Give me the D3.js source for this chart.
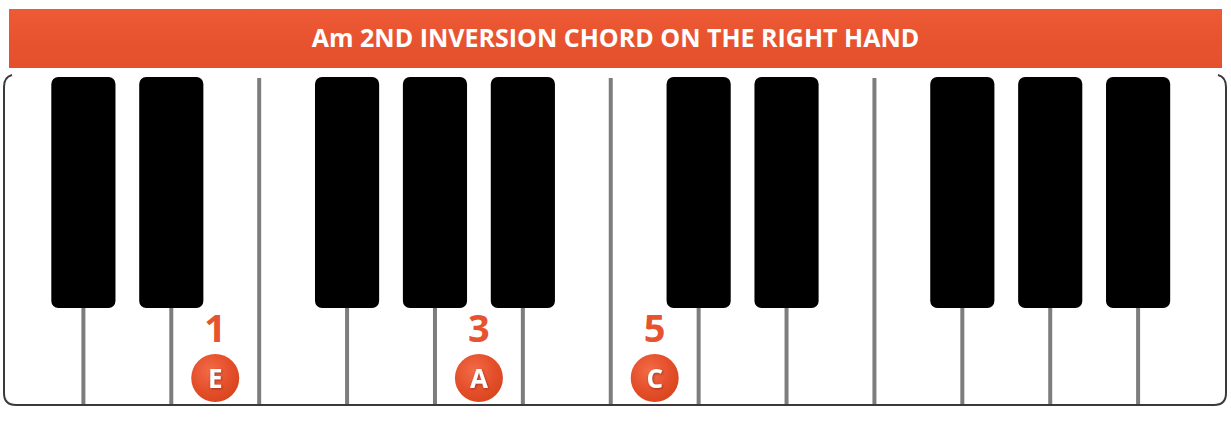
<!DOCTYPE html>
<html>
<head>
<meta charset="utf-8">
<script src="https://cdn.jsdelivr.net/npm/d3@7"></script>
<style>
  html, body { margin: 0; padding: 0; background: #fff; }
  svg { display: block; }
</style>
</head>
<body>
<div id="piano"></div>
<script>
// chord data
const title = "Am 2ND INVERSION CHORD ON THE RIGHT HAND"
const whiteKeys = ["C", "D", "E", "F", "G", "A", "B", "C", "D", "E", "F", "G", "A", "B"]
const sharpAfter = ["C", "D", "F", "G", "A"]   // white notes followed by a black key
const chordNotes = ["E", "A", "C"]
const chordKeys = [2, 5, 7]                     // index into whiteKeys
const fingers = [1, 3, 5]

const width = 1231
const height = 421
const frame = {left: 4, right: 1226, top: 75, bottom: 405}
const orange = "#e8532f"

const svg = d3.select("#piano").append("svg")
  .attr("width", width)
  .attr("height", height)

const defs = svg.append("defs")

const bannerGrad = defs.append("linearGradient")
  .attr("id", "bannerGrad").attr("x1", 0).attr("y1", 0).attr("x2", 0).attr("y2", 1)
bannerGrad.append("stop").attr("offset", "0%").attr("stop-color", "#ef5a36")
bannerGrad.append("stop").attr("offset", "55%").attr("stop-color", "#e8532f")
bannerGrad.append("stop").attr("offset", "100%").attr("stop-color", "#e4502d")

const ballGrad = defs.append("radialGradient")
  .attr("id", "ballGrad").attr("cx", "40%").attr("cy", "35%").attr("r", "65%")
ballGrad.append("stop").attr("offset", "0%").attr("stop-color", "#f26c47")
ballGrad.append("stop").attr("offset", "60%").attr("stop-color", "#e6512d")
ballGrad.append("stop").attr("offset", "100%").attr("stop-color", "#d9461f")

const shadow = defs.append("filter").attr("id", "txtShadow")
  .attr("x", "-30%").attr("y", "-30%").attr("width", "160%").attr("height", "160%")
shadow.append("feDropShadow")
  .attr("dx", 0.8).attr("dy", 1).attr("stdDeviation", 0.8)
  .attr("flood-color", "#7a2410").attr("flood-opacity", 0.7)

defs.append("clipPath").attr("id", "frameClip")
  .append("rect")
  .attr("x", frame.left).attr("y", frame.top - 5)
  .attr("width", frame.right - frame.left).attr("height", frame.bottom - frame.top + 5)

// x scale in white key units
const x = d3.scaleLinear().domain([0, whiteKeys.length]).range([-4.5, 1226])
const keyW = x(1) - x(0)

// banner
svg.append("rect")
  .attr("x", 9).attr("y", 9)
  .attr("width", 1213).attr("height", 59)
  .attr("fill", "url(#bannerGrad)")

svg.append("text")
  .attr("x", 615.5).attr("y", 47)
  .attr("text-anchor", "middle")
  .attr("font-family", "'Open Sans', sans-serif")
  .attr("font-weight", 700)
  .attr("font-size", 25)
  .attr("fill", "#fff")
  .text(title)

const keys = svg.append("g").attr("clip-path", "url(#frameClip)")

// white keys background
keys.selectAll(".white")
  .data(whiteKeys)
  .enter().append("rect")
  .attr("class", "white")
  .attr("x", (d, i) => x(i))
  .attr("y", frame.top)
  .attr("width", keyW)
  .attr("height", frame.bottom - frame.top)
  .attr("fill", "#fff")

// dividers between white keys
keys.selectAll(".divider")
  .data(d3.range(1, whiteKeys.length))
  .enter().append("line")
  .attr("class", "divider")
  .attr("x1", d => x(d)).attr("x2", d => x(d))
  .attr("y1", 78).attr("y2", frame.bottom)
  .attr("stroke", "#7d7d7d")
  .attr("stroke-width", 4)

// black keys sit on the edge after C, D, F, G, A
const blackKeys = whiteKeys
  .map((n, i) => ({note: n + "#", edge: i + 1}))
  .filter((d, i) => i < whiteKeys.length - 1 && sharpAfter.includes(whiteKeys[i]))

const blackW = keyW * 0.73
keys.selectAll(".black")
  .data(blackKeys)
  .enter().append("rect")
  .attr("class", "black")
  .attr("x", d => x(d.edge) - blackW / 2)
  .attr("y", 77)
  .attr("width", blackW)
  .attr("height", 231)
  .attr("rx", 7).attr("ry", 7)
  .attr("fill", "#000")

// frame outline
const r = 12
svg.append("path")
  .attr("d", `M ${frame.left + 8},${frame.top} Q ${frame.left},${frame.top + 2} ${frame.left},${frame.top + 12}
    L ${frame.left},${frame.bottom - r} Q ${frame.left},${frame.bottom} ${frame.left + r},${frame.bottom}
    L ${frame.right - r},${frame.bottom} Q ${frame.right},${frame.bottom} ${frame.right},${frame.bottom - r}
    L ${frame.right},${frame.top + 12} Q ${frame.right},${frame.top + 2} ${frame.right - 8},${frame.top}`)
  .attr("fill", "none")
  .attr("stroke", "#3a3a3a")
  .attr("stroke-width", 2)

// chord markers
const chord = chordNotes.map((n, i) => ({note: n, key: chordKeys[i], finger: fingers[i]}))

const marks = svg.selectAll(".mark")
  .data(chord)
  .enter().append("g")
  .attr("class", "mark")
  .attr("transform", d => "translate(" + (x(d.key) + keyW / 2) + ",0)")

marks.append("text")
  .attr("y", 342)
  .attr("text-anchor", "middle")
  .attr("font-family", "'Open Sans', sans-serif")
  .attr("font-weight", 700)
  .attr("font-size", 38)
  .attr("fill", orange)
  .text(d => d.finger)

marks.append("circle")
  .attr("cy", 378)
  .attr("r", 24)
  .attr("fill", "url(#ballGrad)")

marks.append("text")
  .attr("y", 387.5)
  .attr("text-anchor", "middle")
  .attr("font-family", "'Open Sans', sans-serif")
  .attr("font-weight", 700)
  .attr("font-size", 26)
  .attr("fill", "#fff")
  .attr("filter", "url(#txtShadow)")
  .text(d => d.note)
</script>
</body>
</html>
